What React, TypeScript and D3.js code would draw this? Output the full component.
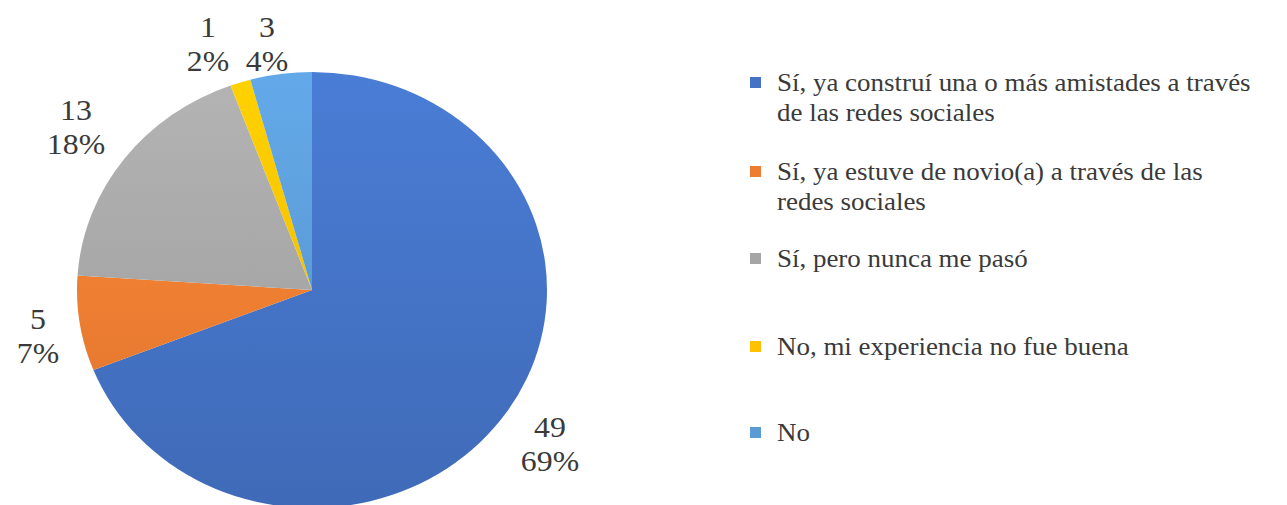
import React from "react";
import * as d3 from "d3";

const categories = [
  "Sí, ya construí una o más amistades a través de las redes sociales",
  "Sí, ya estuve de novio(a) a través de las redes sociales",
  "Sí, pero nunca me pasó",
  "No, mi experiencia no fue buena",
  "No",
];
const legendLines = [
  ["Sí, ya construí una o más amistades a través", "de las redes sociales"],
  ["Sí, ya estuve de novio(a) a través de las", "redes sociales"],
  ["Sí, pero nunca me pasó"],
  ["No, mi experiencia no fue buena"],
  ["No"],
];
const values = [49, 5, 13, 1, 3];
const percentLabels = ["69%", "7%", "18%", "2%", "4%"];
const colors = ["#4472C4", "#ED7D31", "#A5A5A5", "#FFC000", "#5B9BD5"];

const W = 1287;
const H = 505;
const CX = 312;
const CY = 290;
const R = 218;
const SX = 1.078;
const textColor = "#3a3a3a";
const serif = "Liberation Serif, Times New Roman, DejaVu Serif, serif";

// label anchor positions (center x, baseline of first line)
const labelPos: [number, number][] = [
  [550, 437],
  [38, 329],
  [76, 120],
  [208, 37],
  [267, 37],
];
const legendY = [83, 172, 259, 347, 433];

export default function App() {
  const pie = d3
    .pie<number>()
    .sort(null)
    .value((d) => d)(values);
  const arc = d3.arc<d3.PieArcDatum<number>>().innerRadius(0).outerRadius(R);

  return (
    <svg
      width={W}
      height={H}
      style={{ position: "absolute", left: 0, top: 0, background: "#fff" }}
    >
      <defs>
        {colors.map((c, i) => (
          <linearGradient
            key={i}
            id={`g${i}`}
            gradientUnits="userSpaceOnUse"
            x1={0}
            y1={-R}
            x2={0}
            y2={R}
          >
            <stop offset="0" stopColor={d3.color(c)!.brighter(0.25).formatHex()} />
            <stop offset="1" stopColor={d3.color(c)!.darker(0.2).formatHex()} />
          </linearGradient>
        ))}
      </defs>
      <g transform={`translate(${CX},${CY}) scale(${SX},1)`}>
        {pie.map((p, i) => (
          <path key={i} d={arc(p) || ""} fill={`url(#g${i})`} />
        ))}
      </g>
      {pie.map((p, i) => {
        const [x, y] = labelPos[i];
        return (
          <g key={i} transform={`translate(${x},${y}) scale(${SX},1)`}>
            <text
              textAnchor="middle"
              style={{ fontFamily: serif, fontSize: "29.5px" }}
              fill={textColor}
            >
              <tspan x={0} y={0}>{String(values[i])}</tspan>
              <tspan x={0} y={34}>{percentLabels[i]}</tspan>
            </text>
          </g>
        );
      })}
      {categories.map((c, i) => (
        <g key={c} transform={`translate(750,${legendY[i]})`}>
          <rect x={0} y={-6} width={11} height={11} fill={colors[i]} />
          <g transform={`translate(27,0) scale(${SX},1)`}>
            <text style={{ fontFamily: serif, fontSize: "25px" }} fill={textColor}>
              {legendLines[i].map((l, j) => (
                <tspan key={j} x={0} y={8 + j * 30}>
                  {l}
                </tspan>
              ))}
            </text>
          </g>
        </g>
      ))}
    </svg>
  );
}
